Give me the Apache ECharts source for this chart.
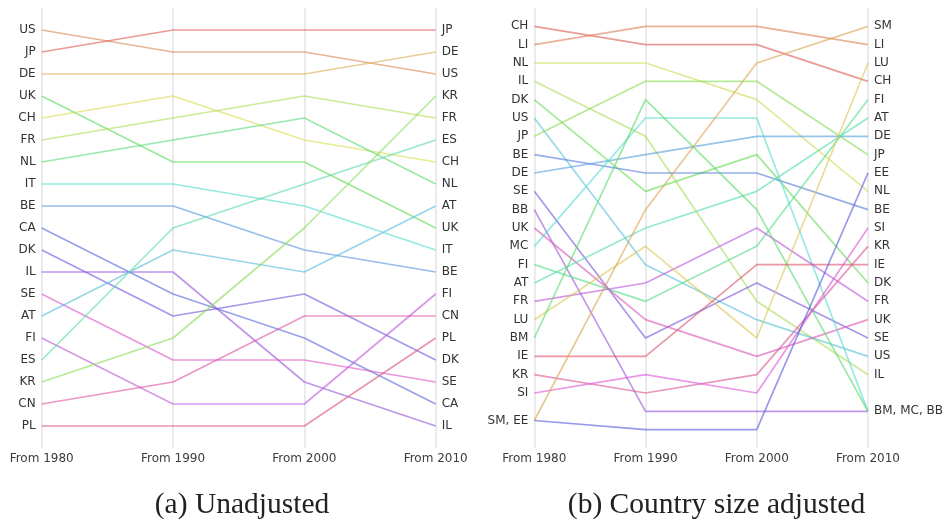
<!DOCTYPE html>
<html>
<head>
<meta charset="utf-8">
<script src="https://cdn.jsdelivr.net/npm/echarts@6/dist/echarts.min.js"></script>
<style>
  html, body { margin: 0; padding: 0; background: #ffffff; }
  #chart { width: 946px; height: 523px; }
</style>
</head>
<body>
<div id="chart"></div>
<script>
// Period labels along the x axis
const years = ['From 1980', 'From 1990', 'From 2000', 'From 2010'];

// (a) Unadjusted ranking: one rank per country for each period
const unadjCountries = ['US', 'JP', 'DE', 'UK', 'CH', 'FR', 'NL', 'IT', 'BE', 'CA', 'DK', 'IL', 'SE', 'AT', 'FI', 'ES', 'KR', 'CN', 'PL'];
const unadj1980 = [1, 2, 3, 4, 5, 6, 7, 8, 9, 10, 11, 12, 13, 14, 15, 16, 17, 18, 19];
const unadj1990 = [2, 1, 3, 7, 4, 5, 6, 8, 9, 13, 14, 12, 16, 11, 18, 10, 15, 17, 19];
const unadj2000 = [2, 1, 3, 7, 6, 4, 5, 9, 11, 15, 13, 17, 16, 12, 18, 8, 10, 14, 19];
const unadj2010 = [3, 1, 2, 10, 7, 5, 8, 11, 12, 18, 16, 19, 17, 9, 13, 6, 4, 14, 15];
const unadjStartLabels = ['US', 'JP', 'DE', 'UK', 'CH', 'FR', 'NL', 'IT', 'BE', 'CA', 'DK', 'IL', 'SE', 'AT', 'FI', 'ES', 'KR', 'CN', 'PL'];
const unadjEndLabels = ['JP', 'DE', 'US', 'KR', 'FR', 'ES', 'CH', 'NL', 'AT', 'UK', 'IT', 'BE', 'FI', 'CN', 'PL', 'DK', 'SE', 'CA', 'IL'];
// hue slot of each country in the colour wheel
const unadjHueSlot = [1, 0, 2, 6, 3, 4, 7, 9, 11, 12, 13, 14, 16, 10, 15, 8, 5, 17, 18];

// (b) Country size adjusted ranking (ties share the mean rank)
const adjCountries = ['CH', 'LI', 'NL', 'IL', 'DK', 'US', 'JP', 'BE', 'DE', 'SE', 'BB', 'UK', 'MC', 'FI', 'AT', 'FR', 'LU', 'BM', 'IE', 'KR', 'SI', 'SM', 'EE'];
const adj1980 = [1, 2, 3, 4, 5, 6, 7, 8, 9, 10, 11, 12, 13, 14, 15, 16, 17, 18, 19, 20, 21, 22.5, 22.5];
const adj1990 = [2, 1, 3, 7, 10, 14, 4, 9, 8, 18, 22, 17, 6, 16, 12, 15, 13, 5, 19, 21, 20, 11, 23];
const adj2000 = [2, 1, 5, 16, 8, 17, 4, 9, 7, 15, 22, 19, 6, 13, 10, 12, 18, 11, 14, 20, 21, 3, 23];
const adj2010 = [4, 2, 10, 20, 15, 19, 8, 11, 7, 18, 22, 17, 22, 5, 6, 16, 3, 22, 14, 13, 12, 1, 9];
const adjStartLabels = ['CH', 'LI', 'NL', 'IL', 'DK', 'US', 'JP', 'BE', 'DE', 'SE', 'BB', 'UK', 'MC', 'FI', 'AT', 'FR', 'LU', 'BM', 'IE', 'KR', 'SI', 'SM, EE'];
const adjEndLabels = ['SM', 'LI', 'LU', 'CH', 'FI', 'AT', 'DE', 'JP', 'EE', 'NL', 'BE', 'SI', 'KR', 'IE', 'DK', 'FR', 'UK', 'SE', 'US', 'IL', 'BM, MC, BB'];
const adjHueSlot = [0, 1, 4, 5, 7, 12, 6, 14, 13, 16, 17, 20, 11, 9, 10, 18, 3, 8, 22, 21, 19, 2, 15];

const captions = ['(a) Unadjusted', '(b) Country size adjusted'];

// ---- helpers ----
function hueColor(slot, n) {
  const h = (0.01 + slot / n) * 360;
  return 'hsl(' + h.toFixed(1) + ', 65%, 60%)';
}

// map rank value -> axis text, positioned by the rank of the first listed country
function labelMap(labels, countries, ranks) {
  const m = {};
  labels.forEach(function (lab) {
    const first = lab.split(', ')[0];
    const r = ranks[countries.indexOf(first)];
    m[r.toFixed(1)] = lab;
  });
  return m;
}

function rankAxis(gridIndex, position, n, map) {
  return {
    type: 'value',
    gridIndex: gridIndex,
    position: position,
    inverse: true,
    min: 0,
    max: n + 1,
    interval: 0.5,
    axisLine: { show: false },
    axisTick: { show: false },
    splitLine: { show: false },
    axisLabel: {
      margin: 6,
      color: '#333',
      fontSize: 12,
      fontFamily: 'DejaVu Sans',
      showMinLabel: true,
      showMaxLabel: true,
      formatter: function (v) { return map[Number(v).toFixed(1)] || ''; }
    }
  };
}

function periodAxis(gridIndex) {
  return {
    type: 'category',
    gridIndex: gridIndex,
    data: years,
    boundaryGap: false,
    axisLine: { show: false },
    axisTick: { show: false },
    splitLine: { show: true, lineStyle: { color: '#e4e4e4', width: 1.5 } },
    axisLabel: { margin: 5, color: '#3c3c3c', fontSize: 12, fontFamily: 'DejaVu Sans' }
  };
}

function lines(countries, yearRanks, hueSlot, xIdx, yIdx) {
  const n = countries.length;
  return countries.map(function (c, i) {
    return {
      name: c,
      type: 'line',
      xAxisIndex: xIdx,
      yAxisIndex: yIdx,
      data: yearRanks.map(function (arr) { return arr[i]; }),
      symbol: 'none',
      silent: true,
      lineStyle: { color: hueColor(hueSlot[i], n), width: 1.7, opacity: 0.62 },
      emphasis: { disabled: true }
    };
  });
}

const chart = echarts.init(document.getElementById('chart'), null, { renderer: 'canvas' });

const nA = unadjCountries.length;
const nB = adjCountries.length;

const option = {
  animation: false,
  backgroundColor: '#ffffff',
  grid: [
    { left: 41.7, right: 510.3, top: 8, bottom: 75 },
    { left: 534.3, right: 74.7, top: 8, bottom: 75 }
  ],
  xAxis: [periodAxis(0), periodAxis(1)],
  yAxis: [
    rankAxis(0, 'left', nA, labelMap(unadjStartLabels, unadjCountries, unadj1980)),
    rankAxis(0, 'right', nA, labelMap(unadjEndLabels, unadjCountries, unadj2010)),
    rankAxis(1, 'left', nB, labelMap(adjStartLabels, adjCountries, adj1980)),
    rankAxis(1, 'right', nB, labelMap(adjEndLabels, adjCountries, adj2010))
  ],
  series: [].concat(
    lines(unadjCountries, [unadj1980, unadj1990, unadj2000, unadj2010], unadjHueSlot, 0, 0),
    lines(adjCountries, [adj1980, adj1990, adj2000, adj2010], adjHueSlot, 1, 2)
  ),
  graphic: [
    {
      type: 'text', x: 242, y: 505,
      style: { text: captions[0], font: '29.5px "Liberation Serif"', fill: '#222',
               textAlign: 'center', textVerticalAlign: 'middle' }
    },
    {
      type: 'text', x: 716.5, y: 505,
      style: { text: captions[1], font: '29.5px "Liberation Serif"', fill: '#222',
               textAlign: 'center', textVerticalAlign: 'middle' }
    }
  ]
};

chart.setOption(option);
</script>
</body>
</html>
